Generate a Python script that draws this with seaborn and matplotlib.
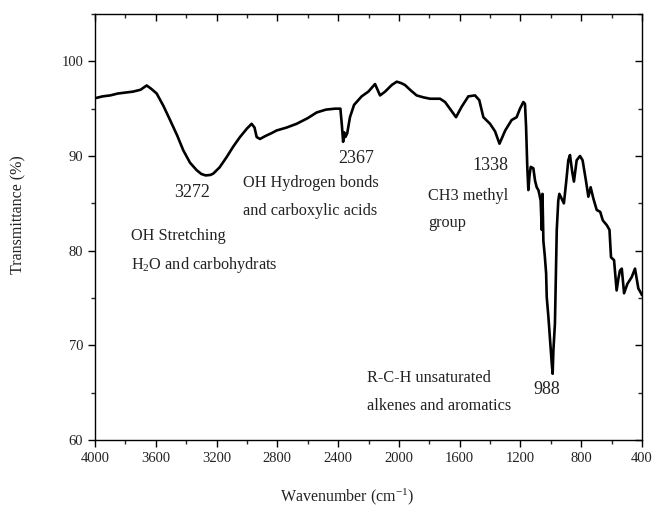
import matplotlib
matplotlib.use("Agg")
import matplotlib.pyplot as plt
from matplotlib.ticker import MultipleLocator
import seaborn as sns
import pandas as pd

# FTIR spectrum: wavenumber (cm-1) and transmittance (%)
wavenumber = [
    4000, 3950, 3900, 3850, 3800, 3750, 3700, 3660, 3630, 3594,
    3550, 3506, 3460, 3419, 3375, 3331, 3300, 3272, 3240, 3221,
    3180, 3133, 3090, 3046, 3000, 2969, 2950, 2936, 2914, 2880,
    2840, 2804, 2740, 2673, 2600, 2541, 2480, 2420, 2385, 2375,
    2367, 2360, 2352, 2340, 2322, 2295, 2245, 2201, 2157, 2124,
    2091, 2047, 2014, 1985, 1960, 1920, 1883, 1840, 1795, 1729,
    1696, 1664, 1624, 1587, 1543, 1499, 1471, 1444, 1400, 1367,
    1338, 1300, 1258, 1225, 1203, 1181, 1170, 1163, 1155, 1148,
    1140, 1132, 1115, 1104, 1093, 1082, 1076, 1067, 1060, 1055,
    1049, 1040, 1031, 1027, 1016, 1005, 994, 988, 983, 973,
    966, 961, 951, 944, 929, 914, 900, 885, 874, 859,
    848, 830, 808, 791, 769, 753, 738, 720, 698, 675,
    658, 632, 614, 604, 584, 567, 556, 545, 533, 518,
    496, 468, 446, 424, 406, 400,
]
transmittance = [
    96.1, 96.3, 96.4, 96.6, 96.7, 96.8, 97.0, 97.45, 97.1, 96.6,
    95.3, 93.8, 92.2, 90.6, 89.3, 88.5, 88.1, 87.95, 88.0, 88.15,
    88.8, 89.9, 91.0, 92.0, 92.9, 93.4, 93.0, 92.0, 91.8, 92.1,
    92.4, 92.7, 93.0, 93.4, 94.0, 94.6, 94.9, 95.0, 95.0, 93.2,
    91.5, 92.5, 92.0, 92.4, 94.1, 95.4, 96.3, 96.8, 97.6, 96.4,
    96.8, 97.5, 97.85, 97.7, 97.5, 96.9, 96.4, 96.2, 96.05, 96.05,
    95.7, 95.0, 94.1, 95.2, 96.3, 96.4, 95.9, 94.1, 93.4, 92.6,
    91.3, 92.7, 93.8, 94.1, 95.0, 95.7, 95.5, 93.1, 88.85, 86.4,
    88.0, 88.85, 88.7, 87.4, 86.7, 86.4, 86.0, 85.3, 82.2, 86.0,
    81.0, 79.5, 77.6, 75.1, 73.0, 70.55, 68.1, 67.0, 69.5, 72.3,
    78.3, 82.2, 85.3, 86.0, 85.5, 85.0, 87.1, 89.55, 90.1, 88.3,
    87.3, 89.55, 90.0, 89.55, 87.4, 85.7, 86.7, 85.5, 84.3, 84.1,
    83.2, 82.7, 82.2, 79.3, 79.0, 75.8, 77.0, 77.9, 78.1, 75.5,
    76.5, 77.2, 78.1, 76.0, 75.5, 75.3,
]

# Peak labels (centred) and band assignment lines (left aligned)
peak_labels = ["3272", "2367", "1338", "988"]
peak_x = [3362, 2282, 1400, 1025]
peak_y = [86.1, 89.75, 89.0, 65.3]

band_lines = [
    "OH Stretching", "H$_2$O and carbohydrats",
    "OH Hydrogen bonds", "and carboxylic acids",
    "CH3 methyl", "group",
    "R-C-H unsaturated", "alkenes and aromatics",
]
band_x = [3763, 3763, 3026, 3026, 1808, 1808, 2210, 2210]
band_y = [81.5, 78.45, 87.1, 84.15, 85.75, 82.9, 66.55, 63.6]

sns.set_theme(style="ticks")
plt.rcParams["font.family"] = ["Liberation Serif", "DejaVu Serif"]
plt.rcParams["mathtext.fontset"] = "custom"
plt.rcParams["mathtext.rm"] = "Liberation Serif"
plt.rcParams["mathtext.it"] = "Liberation Serif:italic"

df = pd.DataFrame({"wavenumber": wavenumber, "transmittance": transmittance})

fig = plt.figure(figsize=(6.57, 5.12), dpi=100)
ax = fig.add_axes([95 / 657, 1 - 440 / 512, 547 / 657, 426 / 512])

sns.lineplot(data=df, x="wavenumber", y="transmittance", ax=ax,
             color="black", linewidth=1.9, estimator=None)

ax.set_xlim(4000, 400)
ax.set_ylim(60, 105)
ax.xaxis.set_major_locator(MultipleLocator(400))
ax.xaxis.set_minor_locator(MultipleLocator(200))
ax.yaxis.set_major_locator(MultipleLocator(10))
ax.yaxis.set_minor_locator(MultipleLocator(5))

ax.tick_params(axis="both", which="major", direction="out", length=5,
               width=1, colors="black", labelsize=10.5, labelcolor="#222222")
ax.tick_params(axis="both", which="minor", direction="out", length=3, width=1)
ax.tick_params(top=True, right=True, which="both")
for t in ax.xaxis.get_major_ticks() + ax.xaxis.get_minor_ticks():
    t.tick2line.set_marker(3)  # inward tick on top spine
for t in ax.yaxis.get_major_ticks() + ax.yaxis.get_minor_ticks():
    t.tick2line.set_marker(0)  # inward tick on right spine

for s in ax.spines.values():
    s.set_color("black")
    s.set_linewidth(1.0)

ax.set_xlabel("Wavenumber (cm$^{-1}$)", fontsize=11.5, color="#222222")
ax.set_ylabel("Transmittance (%)", fontsize=11.5, color="#222222")
ax.xaxis.set_label_coords(0.46, -0.11)
ax.yaxis.set_label_coords(-0.125, 0.53)

for lab, x, y in zip(peak_labels, peak_x, peak_y):
    ax.text(x, y, lab, ha="center", va="center", fontsize=13, color="#222222")
for txt, x, y in zip(band_lines, band_x, band_y):
    ax.text(x, y, txt, ha="left", va="center", fontsize=11.7, color="#222222")

fig.savefig("out.png", dpi=100)
